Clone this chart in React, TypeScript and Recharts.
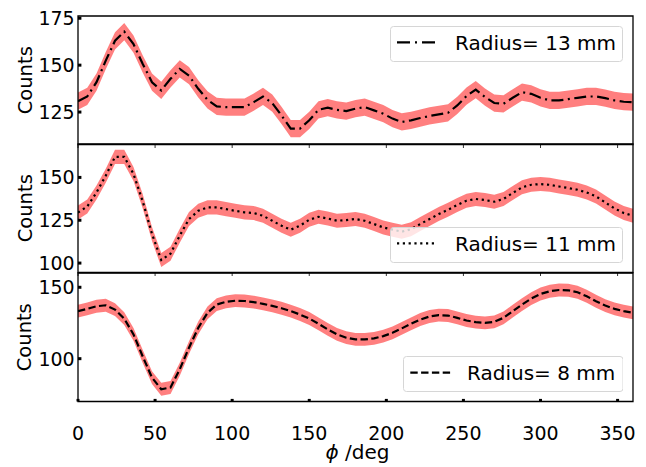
import React from "react";
import { ComposedChart, Area, Line, XAxis, YAxis, ReferenceArea, Legend } from "recharts";

const phi = [0, 6, 12, 18, 24, 30, 36, 42, 48, 54, 60, 66, 72, 78, 84, 90, 96, 102, 108, 114, 120, 126, 132, 138, 144, 150, 156, 162, 168, 174, 180, 186, 192, 198, 204, 210, 216, 222, 228, 234, 240, 246, 252, 258, 264, 270, 276, 282, 288, 294, 300, 306, 312, 318, 324, 330, 336, 342, 348, 354, 360];

const counts13 = [130.8, 133.3, 140.9, 152.4, 163.0, 167.9, 161.2, 150.6, 140.9, 136.5, 142.7, 148.0, 144.4, 137.4, 131.5, 128.0, 127.6, 127.6, 127.6, 130.3, 133.3, 129.8, 123.2, 116.2, 116.2, 120.6, 126.2, 127.3, 126.2, 125.5, 126.8, 127.6, 125.9, 124.1, 121.5, 119.7, 120.6, 121.8, 122.9, 123.8, 124.6, 128.5, 133.5, 137.0, 133.0, 129.8, 129.4, 132.6, 135.6, 134.7, 132.6, 131.2, 131.2, 131.9, 132.6, 133.3, 133.3, 132.4, 131.2, 130.5, 130.3];

const counts11 = [129.5, 133.0, 141.2, 151.0, 162.0, 162.0, 152.0, 136.0, 117.0, 101.8, 105.5, 116.0, 125.7, 130.5, 132.5, 132.5, 131.5, 130.5, 129.6, 129.2, 127.6, 124.7, 121.8, 119.5, 121.8, 125.3, 127.0, 126.0, 124.7, 125.1, 125.7, 124.7, 122.8, 120.8, 119.5, 118.3, 119.8, 122.8, 125.7, 128.6, 131.1, 133.9, 136.4, 137.4, 136.8, 135.8, 137.4, 140.9, 144.2, 145.7, 146.1, 145.7, 144.7, 143.8, 142.8, 141.2, 138.9, 135.4, 131.9, 129.2, 127.6];

const counts8 = [133.3, 134.9, 136.7, 137.4, 134.4, 128.0, 117.0, 101.5, 86.7, 78.6, 79.8, 92.6, 107.7, 121.6, 132.1, 137.9, 139.8, 140.6, 140.4, 139.6, 138.4, 137.0, 135.3, 133.3, 130.9, 128.1, 124.4, 120.5, 117.0, 114.7, 113.5, 113.5, 114.2, 115.8, 118.1, 121.2, 124.4, 127.4, 129.5, 130.5, 130.2, 128.6, 126.7, 125.6, 125.1, 125.8, 128.6, 133.3, 137.9, 142.1, 145.3, 147.2, 148.1, 147.9, 146.5, 143.7, 140.2, 137.2, 134.9, 133.3, 132.1];

// half-width of the shaded uncertainty band (counts)
const err13 = 4.6;
const err11 = 4.1;
const err8 = 4.5;

const xTicks = [0, 50, 100, 150, 200, 250, 300, 350];
const yTicks13 = [125, 150, 175];
const yTicks11 = [100, 125, 150];
const yTicks8 = [100, 150];

const label13 = "Radius= 13 mm";
const label11 = "Radius= 11 mm";
const label8 = "Radius= 8 mm";

const FONT = "DejaVu Sans";
const W = 646;
const PLOT_LEFT = 78;
const PLOT_RIGHT_MARGIN = 13;
const PLOT_H = 128.5;
const MT = 10;

function buildRows(vals: number[], err: number) {
  return phi.map((p, i) => ({ phi: p, v: vals[i], band: [vals[i] - err, vals[i] + err] }));
}

const YTick = (props: any) => {
  const { x, y, payload } = props;
  return (
    <g>
      <line x1={x} x2={x + 3.4} y1={y} y2={y} stroke="#000" strokeWidth={3} />
      <text x={x - 3.3} y={y + 6.9} textAnchor="end" fontFamily={FONT} fontSize={19} fill="#000">
        {payload.value}
      </text>
    </g>
  );
};

const XTickThin = (props: any) => {
  const { x, y } = props;
  return <line x1={x} x2={x} y1={y} y2={y + 3.5} stroke="#000" strokeWidth={0.8} />;
};

const XTickLabel = (props: any) => {
  const { x, y, payload } = props;
  return (
    <g>
      <line x1={x} x2={x} y1={y} y2={y - 2.6} stroke="#000" strokeWidth={3} />
      <text x={x} y={y + 38.1} textAnchor="middle" fontFamily={FONT} fontSize={19} fill="#000">
        {payload.value}
      </text>
    </g>
  );
};

type LegendSpec = {
  label: string;
  dash: string;
  left: number;
  top: number;
  width: number;
  height: number;
  sx: number;
  tx: number;
  ly: number;
  by: number;
};

function makeLegend(spec: LegendSpec) {
  return () => (
    <svg width={spec.width} height={spec.height} style={{ display: "block" }}>
      <rect
        x={0.5}
        y={0.5}
        width={spec.width - 1}
        height={spec.height - 1}
        rx={3}
        ry={3}
        fill="#fff"
        fillOpacity={0.8}
        stroke="#d6d6d6"
        strokeWidth={1}
      />
      <line x1={spec.sx} x2={spec.sx + 40} y1={spec.ly} y2={spec.ly} stroke="#000" strokeWidth={2.2} strokeDasharray={spec.dash} />
      <text x={spec.tx} y={spec.by} fontFamily={FONT} fontSize={20} fill="#000">
        {spec.label}
      </text>
    </svg>
  );
}

type PanelProps = {
  vals: number[];
  err: number;
  domain: [number, number];
  yTicks: number[];
  top: number;
  bottomArea: number;
  last: boolean;
  dash: string;
  name: string;
  legend: LegendSpec;
};

function Panel(p: PanelProps) {
  const data = buildRows(p.vals, p.err);
  const height = MT + PLOT_H + p.bottomArea;
  return (
    <div style={{ position: "absolute", left: 0, top: p.top - MT, width: W, height }}>
      <ComposedChart
        width={W}
        height={height}
        data={data}
        margin={{ top: MT, right: PLOT_RIGHT_MARGIN, bottom: 0, left: 0 }}
      >
        <XAxis
          dataKey="phi"
          type="number"
          domain={[0, 360]}
          ticks={xTicks}
          interval={0}
          allowDataOverflow
          axisLine={false}
          tickLine={false}
          tickSize={0}
          tickMargin={0}
          height={p.bottomArea}
          tick={p.last ? XTickLabel : XTickThin}
          label={
            p.last
              ? (lp: any) => {
                  const vb = lp.viewBox || { x: PLOT_LEFT, y: MT + PLOT_H, width: W - PLOT_LEFT - PLOT_RIGHT_MARGIN };
                  return (
                    <text
                      x={vb.x + vb.width / 2 + 2}
                      y={vb.y + 58}
                      textAnchor="middle"
                      fontFamily={FONT}
                      fontSize={20}
                      fill="#000"
                    >
                      <tspan fontStyle="italic">ϕ</tspan>
                      <tspan> /deg</tspan>
                    </text>
                  );
                }
              : undefined
          }
        />
        <YAxis
          type="number"
          domain={p.domain}
          ticks={p.yTicks}
          interval={0}
          allowDataOverflow
          width={PLOT_LEFT}
          axisLine={false}
          tickLine={false}
          tickSize={0}
          tickMargin={0}
          tick={YTick}
          label={(lp: any) => {
            const vb = lp.viewBox || { y: MT, height: PLOT_H };
            const cy = vb.y + vb.height / 2;
            return (
              <text
                x={31.5}
                y={cy}
                transform={`rotate(-90, 31.5, ${cy})`}
                textAnchor="middle"
                fontFamily={FONT}
                fontSize={19.5}
                fill="#000"
              >
                Counts
              </text>
            );
          }}
        />
        <Area
          type="linear"
          dataKey="band"
          fill="#ff0000"
          fillOpacity={0.5}
          stroke="none"
          isAnimationActive={false}
          legendType="none"
          activeDot={false}
        />
        <Line
          type="linear"
          dataKey="v"
          name={p.name}
          stroke="#000"
          strokeWidth={2.2}
          strokeDasharray={p.dash}
          dot={false}
          activeDot={false}
          isAnimationActive={false}
        />
        <ReferenceArea
          x1={0}
          x2={360}
          y1={p.domain[0]}
          y2={p.domain[1]}
          fill="none"
          stroke="#000"
          strokeWidth={1.3}
          ifOverflow="visible"
        />
        <Legend
          layout="horizontal"
          verticalAlign="middle"
          align="center"
          content={makeLegend(p.legend)}
          wrapperStyle={{ left: p.legend.left, top: p.legend.top, width: p.legend.width, height: p.legend.height }}
        />
      </ComposedChart>
    </div>
  );
}

export default function App() {
  return (
    <div style={{ position: "absolute", left: 0, top: 0, width: W, height: 467, overflow: "hidden", background: "#fff" }}>
      <Panel
        vals={counts13}
        err={err13}
        domain={[107.7, 176.2]}
        yTicks={yTicks13}
        top={15.7}
        bottomArea={10}
        last={false}
        dash="12 4.5 2 4.5"
        name={label13}
        legend={{ label: label13, dash: "13 5 2 5", left: 390, top: 20, width: 233, height: 36, sx: 7, tx: 65, ly: 16.3, by: 23.8 }}
      />
      <Panel
        vals={counts11}
        err={err11}
        domain={[94.5, 169.5]}
        yTicks={yTicks11}
        top={144.2}
        bottomArea={10}
        last={false}
        dash="2.2 3.6"
        name={label11}
        legend={{ label: label11, dash: "2.2 3.6", left: 390, top: 92.8, width: 233, height: 36, sx: 7, tx: 65, ly: 16.3, by: 23.8 }}
      />
      <Panel
        vals={counts8}
        err={err8}
        domain={[70, 160]}
        yTicks={yTicks8}
        top={272.7}
        bottomArea={65.8}
        last={true}
        dash="7.4 3.4"
        name={label8}
        legend={{ label: label8, dash: "7.4 3.4", left: 402.7, top: 93, width: 220.5, height: 36, sx: 7.3, tx: 64, ly: 16.6, by: 24 }}
      />
    </div>
  );
}
